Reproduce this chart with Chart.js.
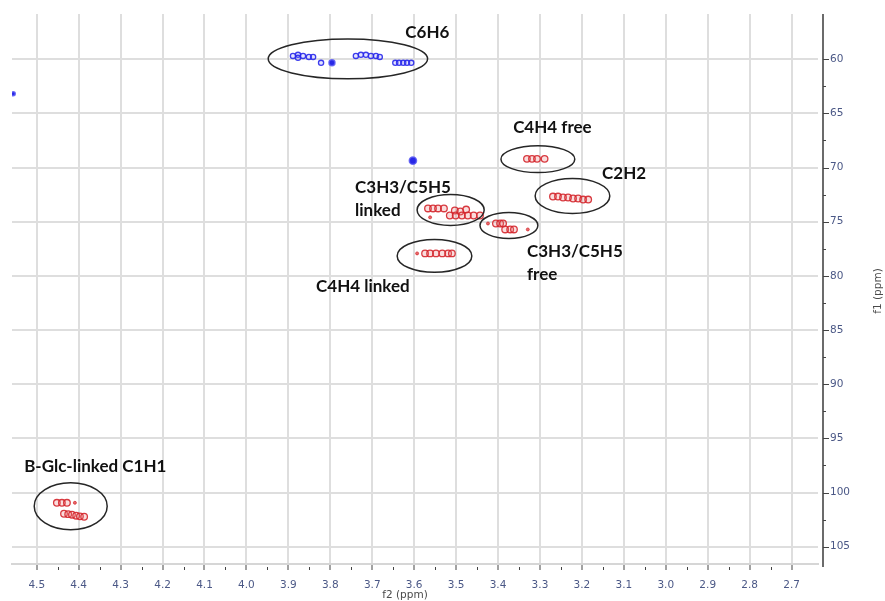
<!DOCTYPE html>
<html>
<head>
<meta charset="utf-8">
<script src="https://cdn.jsdelivr.net/npm/chart.js@4.4.1/dist/chart.umd.min.js"></script>
<style>
  html, body { margin: 0; padding: 0; background: #fff; }
  #wrap { width: 885px; height: 601px; }
</style>
</head>
<body>
<div id="wrap"><canvas id="hsqc" width="885" height="601"></canvas></div>
<script>
// axis ticks (ppm)
const xTicks = [4.5, 4.4, 4.3, 4.2, 4.1, 4.0, 3.9, 3.8, 3.7, 3.6, 3.5, 3.4, 3.3, 3.2, 3.1, 3.0, 2.9, 2.8, 2.7];
const yTicks = [60, 65, 70, 75, 80, 85, 90, 95, 100, 105];

// blue contours (f2, f1)
const bluePeaks = [
    [3.889, 59.70], [3.877, 59.60], [3.865, 59.70], [3.851, 59.79], [3.841, 59.79], [3.877, 59.88],
    [3.822, 60.34],
    [3.739, 59.70], [3.727, 59.60], [3.715, 59.60], [3.703, 59.70], [3.691, 59.70], [3.682, 59.79],
    [3.645, 60.34], [3.636, 60.34], [3.626, 60.34], [3.617, 60.34], [3.607, 60.34]
];
const blueDots = [[3.796, 60.34], [3.603, 69.37], [4.556, 63.2]];

// red contours (f2, f1)
const redPeaks = [
    // C4H4 free
    [3.331, 69.2], [3.319, 69.2], [3.307, 69.2], [3.289, 69.2],
    // C2H2
    [3.269, 72.68], [3.257, 72.68], [3.245, 72.77], [3.233, 72.77],
    [3.221, 72.86], [3.209, 72.86], [3.197, 72.96], [3.185, 72.96],
    // C3H3/C5H5 linked
    [3.567, 73.78], [3.555, 73.78], [3.543, 73.78], [3.529, 73.78],
    [3.503, 73.97], [3.490, 74.06], [3.476, 73.88],
    [3.515, 74.43], [3.501, 74.43], [3.486, 74.43], [3.472, 74.43], [3.458, 74.43], [3.443, 74.43],
    // C3H3/C5H5 free
    [3.405, 75.17], [3.395, 75.17], [3.388, 75.17],
    [3.383, 75.72], [3.371, 75.72], [3.362, 75.72],
    // C4H4 linked
    [3.574, 77.93], [3.562, 77.93], [3.548, 77.93], [3.533, 77.93], [3.519, 77.93], [3.510, 77.93],
    // B-Glc C1H1
    [4.452, 100.95], [4.440, 100.95], [4.428, 100.95],
    [4.435, 101.96], [4.425, 102.0], [4.416, 102.05], [4.406, 102.14], [4.397, 102.2], [4.387, 102.24]
];
const redDots = [[3.562, 74.6], [3.424, 75.17], [3.329, 75.72], [3.593, 77.93], [4.409, 100.95]];

// assignment circles: centre f2, centre f1, half-width f2, half-height f1
const regions = [
    [3.758, 59.97, 0.190, 1.84],
    [3.305, 69.23, 0.088, 1.24],
    [3.2225, 72.63, 0.089, 1.61],
    [3.513, 73.92, 0.080, 1.43],
    [3.374, 75.35, 0.069, 1.20],
    [3.5515, 78.16, 0.089, 1.52],
    [4.419, 101.27, 0.087, 2.16]
];

// labels: text lines, f2 of left edge, f1 of first line
const labelText = [['C6H6'], ['C4H4 free'], ['C2H2'], ['C3H3/C5H5', 'linked'], ['C3H3/C5H5', 'free'], ['C4H4 linked'], ['B-Glc-linked C1H1']];
const labelX = [3.621, 3.364, 3.152, 3.741, 3.331, 3.834, 4.530];
const labelY = [57.58, 66.33, 70.56, 71.84, 77.74, 80.96, 97.63];

const toPts = arr => arr.map(p => ({ x: p[0], y: p[1] }));
const midpoints = (arr, step) => {
    const out = [arr[0] + step / 2];
    for (let i = 0; i < arr.length - 1; i++) out.push((arr[i] + arr[i + 1]) / 2);
    out.push(arr[arr.length - 1] - step / 2);
    return out;
};

const overlay = {
    id: 'overlay',
    afterDatasetsDraw(chart) {
        const { ctx, chartArea: a, scales: { x, y } } = chart;
        ctx.save();

        // circles round assignments
        ctx.strokeStyle = '#262626';
        ctx.lineWidth = 1.5;
        regions.forEach(r => {
            const cx = x.getPixelForValue(r[0]);
            const cy = y.getPixelForValue(r[1]);
            const rx = Math.abs(x.getPixelForValue(r[0] + r[2]) - cx);
            const ry = Math.abs(y.getPixelForValue(r[1] + r[3]) - cy);
            ctx.beginPath();
            ctx.ellipse(cx, cy, rx, ry, 0, 0, Math.PI * 2);
            ctx.stroke();
        });

        // labels
        ctx.fillStyle = '#111';
        ctx.font = 'bold 17px Lato';
        ctx.textAlign = 'left';
        ctx.textBaseline = 'middle';
        labelText.forEach((lines, i) => {
            const px = x.getPixelForValue(labelX[i]);
            const py = y.getPixelForValue(labelY[i]);
            lines.forEach((t, j) => ctx.fillText(t, px, py + j * 23));
        });

        // right axis line and ticks
        const ax = a.right + 5;
        ctx.strokeStyle = '#6b6b6b';
        ctx.lineWidth = 2;
        ctx.beginPath();
        ctx.moveTo(ax, a.top);
        ctx.lineTo(ax, a.bottom + 3);
        ctx.stroke();
        ctx.lineWidth = 1;
        ctx.strokeStyle = '#444';
        yTicks.forEach(v => {
            const py = Math.round(y.getPixelForValue(v)) + 0.5;
            ctx.beginPath(); ctx.moveTo(ax, py); ctx.lineTo(ax + 6, py); ctx.stroke();
        });
        midpoints(yTicks, 5).forEach(v => {
            if (v < y.min || v > y.max) return;
            const py = Math.round(y.getPixelForValue(v)) + 0.5;
            ctx.beginPath(); ctx.moveTo(ax, py); ctx.lineTo(ax + 3, py); ctx.stroke();
        });

        // minor ticks on f2
        midpoints(xTicks, -0.1).forEach(v => {
            if (v < x.min || v > x.max) return;
            const px = Math.round(x.getPixelForValue(v)) + 0.5;
            ctx.beginPath(); ctx.moveTo(px, a.bottom + 3); ctx.lineTo(px, a.bottom + 6); ctx.stroke();
        });

        // axis titles
        ctx.fillStyle = '#4a4a4a';
        ctx.font = '10.5px "DejaVu Sans"';
        ctx.textAlign = 'center';
        ctx.fillText('f2 (ppm)', (a.left + a.right) / 2 - 10, 595);
        ctx.translate(878, (a.top + a.bottom) / 2 + 2);
        ctx.rotate(-Math.PI / 2);
        ctx.fillText('f1 (ppm)', 0, 0);
        ctx.restore();
    }
};

const tickFont = { family: 'DejaVu Sans', size: 10.5 };

new Chart(document.getElementById('hsqc'), {
    type: 'scatter',
    data: {
        datasets: [
            {
                data: toPts(redPeaks),
                pointStyle: 'circle',
                pointRadius: 3.3,
                borderWidth: 1.3,
                borderColor: 'rgba(212, 38, 44, 0.9)',
                backgroundColor: 'rgba(235, 120, 120, 0.25)'
            },
            {
                data: toPts(redDots),
                pointRadius: 1.5,
                borderWidth: 0.8,
                borderColor: 'rgba(212, 38, 44, 0.9)',
                backgroundColor: 'rgba(225, 70, 70, 0.8)'
            },
            {
                data: toPts(bluePeaks),
                pointRadius: 2.6,
                borderWidth: 1.3,
                borderColor: 'rgba(40, 40, 235, 0.9)',
                backgroundColor: 'rgba(120, 120, 250, 0.2)'
            },
            {
                data: toPts(blueDots),
                pointRadius: [3, 3.6, 2],
                borderWidth: 1.5,
                borderColor: 'rgba(90, 90, 245, 0.85)',
                backgroundColor: 'rgba(40, 40, 230, 1)'
            }
        ]
    },
    options: {
        responsive: false,
        animation: false,
        layout: { padding: { left: 12, top: 14, right: 0, bottom: 0 } },
        plugins: { legend: { display: false }, tooltip: { enabled: false } },
        scales: {
            x: {
                type: 'linear',
                reverse: true,
                min: 2.637,
                max: 4.559,
                afterBuildTicks: s => { s.ticks = xTicks.map(v => ({ value: v })); },
                afterFit: s => { s.height = 37; s.paddingLeft = 0; s.paddingRight = 0; },
                grid: { color: '#dedede', lineWidth: 2, tickColor: '#444', tickLength: 6, tickWidth: 1 },
                border: { display: true, color: '#d6d6d6', width: 2 },
                ticks: {
                    color: '#4b5886',
                    font: tickFont,
                    padding: 9,
                    maxRotation: 0,
                    callback: v => v.toFixed(1)
                }
            },
            y: {
                type: 'linear',
                position: 'right',
                reverse: true,
                min: 55.83,
                max: 106.6,
                afterBuildTicks: s => { s.ticks = yTicks.map(v => ({ value: v })); },
                afterFit: s => { s.width = 67; s.paddingTop = 0; s.paddingBottom = 0; },
                grid: { color: '#dedede', lineWidth: 2, drawTicks: false },
                border: { display: false },
                ticks: {
                    color: '#4b5886',
                    font: tickFont,
                    padding: 12,
                    callback: v => String(v)
                }
            }
        }
    },
    plugins: [overlay]
});
</script>
</body>
</html>
